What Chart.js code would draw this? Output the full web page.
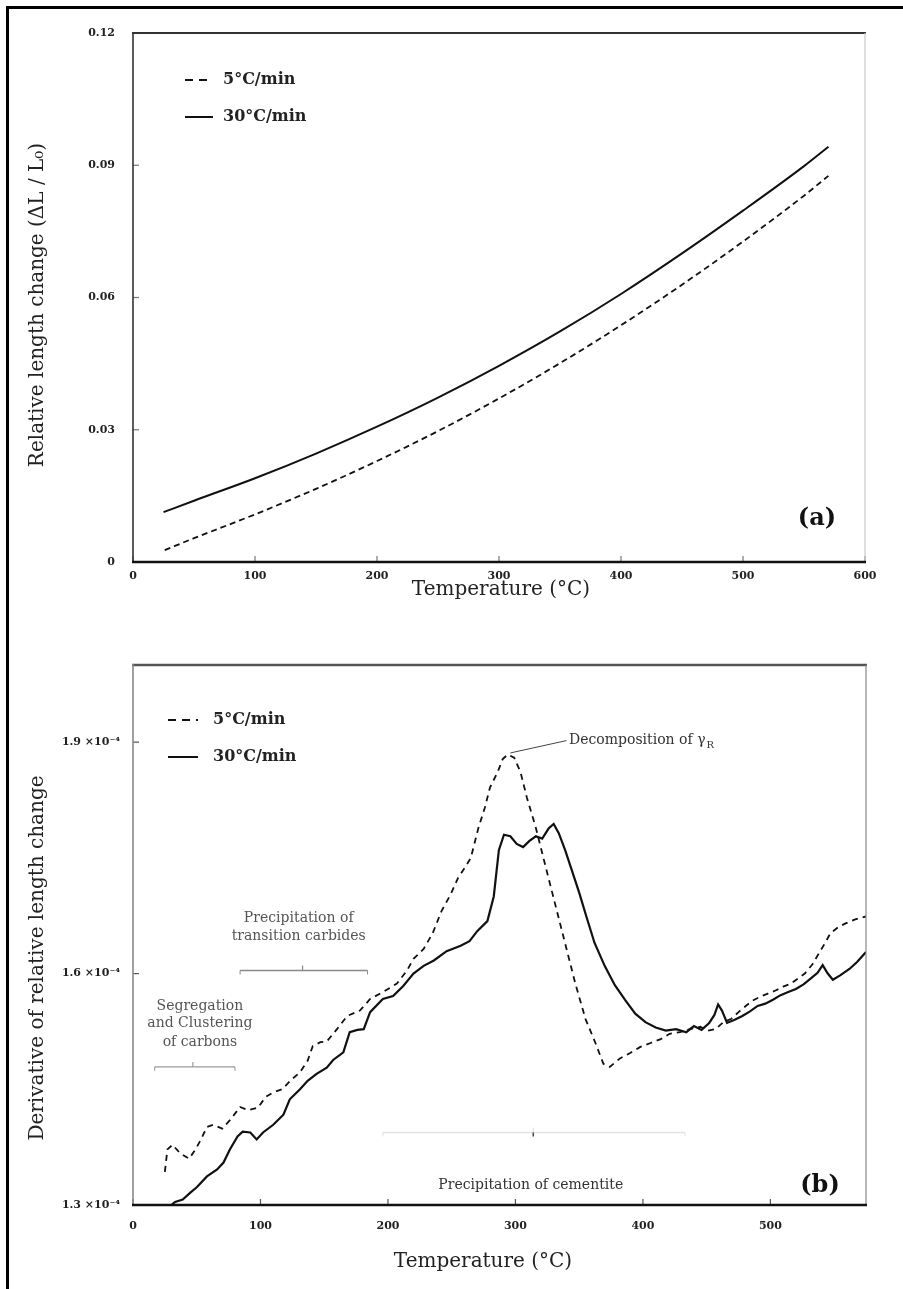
<!DOCTYPE html>
<html>
<head>
<meta charset="utf-8">
<script src="https://cdn.jsdelivr.net/npm/chart.js@4/dist/chart.umd.min.js"></script>
<style>
html,body{margin:0;padding:0;background:#fff;}
#wrap{position:relative;width:903px;height:1289px;overflow:hidden;background:#fff;}
#box1{position:absolute;left:0;top:0;width:903px;height:620px;}
#box2{position:absolute;left:0;top:620px;width:903px;height:669px;}
#outer{position:absolute;left:6px;top:6px;width:900px;height:1290px;border-left:3px solid #000;border-top:3px solid #000;pointer-events:none;}
</style>
</head>
<body>
<div id="wrap">
  <div id="box1"><canvas id="c1" width="903" height="620"></canvas></div>
  <div id="box2"><canvas id="c2" width="903" height="669"></canvas></div>
  <div id="outer"></div>
</div>
<script>
// ---------- DATA ----------
const seriesNames = ['5°C/min', '30°C/min'];

// (a) relative length change vs temperature
const tempA5  = [26, 50, 100, 150, 200, 250, 300, 350, 400, 450, 500, 550, 570];
const lenA5   = [0.0027, 0.0054, 0.0108, 0.0166, 0.0229, 0.0297, 0.0371, 0.0451, 0.0537, 0.0629, 0.0727, 0.0831, 0.0876];
const tempA30 = [25, 50, 100, 150, 200, 250, 300, 350, 400, 450, 500, 550, 570];
const lenA30  = [0.0113, 0.0139, 0.0190, 0.0246, 0.0307, 0.0373, 0.0445, 0.0523, 0.0608, 0.0700, 0.0797, 0.0898, 0.0942];

// (b) derivative of relative length change (x 1e-4) vs temperature
const tempB5 = [25,27,31,37,44,49,53,58,63,70,76,84,90,98,104,110,117,124,131,137,141,147,152,160,168,178,186,196,207,215,220,228,235,242,249,255,261,265,271,276,280,286,290,294,299,304,309,316,323,331,339,347,355,363,369,374,382,390,398,406,414,421,429,437,445,451,457,463,469,475,480,486,492,498,504,510,516,522,527,533,538,543,547,553,559,566,575];
const derivB5 = [1.343,1.372,1.378,1.367,1.360,1.372,1.384,1.401,1.404,1.399,1.410,1.427,1.423,1.426,1.440,1.446,1.450,1.462,1.472,1.487,1.506,1.511,1.512,1.528,1.545,1.552,1.567,1.576,1.587,1.604,1.619,1.632,1.652,1.681,1.702,1.724,1.739,1.750,1.789,1.815,1.841,1.861,1.878,1.884,1.880,1.861,1.828,1.789,1.743,1.691,1.639,1.587,1.541,1.509,1.483,1.479,1.490,1.497,1.505,1.510,1.515,1.522,1.524,1.528,1.531,1.526,1.528,1.537,1.541,1.550,1.557,1.565,1.570,1.574,1.578,1.583,1.587,1.594,1.600,1.612,1.626,1.640,1.652,1.660,1.665,1.670,1.674];
const tempB30 = [30,33,39,45,50,58,66,71,76,82,86,92,97,102,110,118,123,131,137,144,152,157,165,170,176,181,186,196,204,212,220,228,236,246,257,264,270,278,283,287,291,296,301,306,311,316,321,326,330,334,339,344,350,356,362,370,378,386,394,402,410,418,426,434,440,446,452,456,459,462,466,472,478,484,490,496,502,508,514,520,526,532,537,541,545,549,555,562,568,575];
const derivB30 = [1.300,1.304,1.307,1.316,1.323,1.337,1.346,1.355,1.372,1.389,1.395,1.394,1.385,1.394,1.404,1.417,1.437,1.450,1.461,1.470,1.478,1.488,1.498,1.524,1.527,1.528,1.550,1.567,1.571,1.584,1.600,1.610,1.617,1.629,1.636,1.642,1.655,1.668,1.700,1.760,1.780,1.778,1.768,1.764,1.772,1.778,1.775,1.788,1.794,1.782,1.760,1.735,1.705,1.672,1.640,1.610,1.585,1.566,1.548,1.537,1.530,1.526,1.528,1.524,1.532,1.527,1.536,1.546,1.560,1.552,1.536,1.540,1.545,1.551,1.558,1.561,1.566,1.572,1.576,1.580,1.586,1.594,1.601,1.611,1.600,1.592,1.598,1.606,1.615,1.628];

// ticks
const xTicksA = [0, 100, 200, 300, 400, 500, 600];
const yTicksA = [0, 0.03, 0.06, 0.09, 0.12];
const yTickLabelsA = ['0', '0.03', '0.06', '0.09', '0.12'];
const xTicksB = [0, 100, 200, 300, 400, 500];
const yTicksB = [1.3, 1.6, 1.9];
const yTickLabelsB = ['1.3 ×10⁻⁴', '1.6 ×10⁻⁴', '1.9 ×10⁻⁴'];

// ---------- HELPERS ----------
const SERIF = "'DejaVu Serif', 'Liberation Serif', serif";
const pairs = (xs, ys) => xs.map((v, i) => ({x: v, y: ys[i]}));

function hline(ctx, x1, y1, x2, y2, color, w) {
  ctx.beginPath(); ctx.strokeStyle = color; ctx.lineWidth = w;
  ctx.moveTo(x1, y1); ctx.lineTo(x2, y2); ctx.stroke();
}

const framePlugin = {
  id: 'frame',
  afterDatasetsDraw(chart, args, o) {
    const {ctx, chartArea: a, scales: {x, y}} = chart;
    ctx.save();
    ctx.setLineDash([]);
    x.ticks.forEach(t => {
      const px = x.getPixelForValue(t.value);
      hline(ctx, px, a.bottom, px, a.bottom - 6, o.tick, 1.2);
    });
    y.ticks.forEach(t => {
      const py = y.getPixelForValue(t.value);
      hline(ctx, a.left, py, a.left + 6, py, o.tick, 1.2);
    });
    hline(ctx, a.left - 1, a.top, a.right + 1, a.top, o.top, o.topW);
    hline(ctx, a.right, a.top, a.right, a.bottom, o.right, 1.2);
    hline(ctx, a.left, a.top - 1, a.left, a.bottom + 1, o.left, o.leftW);
    hline(ctx, a.left - 1, a.bottom, a.right + 1, a.bottom, '#111', 2.5);
    ctx.restore();
  }
};

const overlayPlugin = {
  id: 'overlay',
  afterDraw(chart, args, o) {
    const {ctx} = chart;
    ctx.save();
    // axis titles
    ctx.fillStyle = '#222';
    ctx.font = '20px ' + SERIF;
    ctx.textAlign = 'center';
    ctx.textBaseline = 'middle';
    ctx.fillText('Temperature (°C)', o.xTitle.x, o.xTitle.y);
    ctx.save();
    ctx.translate(o.yTitle.x, o.yTitle.y);
    ctx.rotate(-Math.PI / 2);
    ctx.fillText(o.yTitle.text, 0, 0);
    ctx.restore();
    // legend
    const L = o.legend;
    ctx.fillStyle = '#222';
    ctx.font = L.font;
    ctx.textAlign = 'left';
    ctx.strokeStyle = '#111';
    ctx.lineWidth = 2;
    ctx.setLineDash([8, 6]);
    ctx.beginPath(); ctx.moveTo(L.x1, L.y1); ctx.lineTo(L.x2, L.y1); ctx.stroke();
    ctx.setLineDash([]);
    ctx.beginPath(); ctx.moveTo(L.x1, L.y2); ctx.lineTo(L.x2, L.y2); ctx.stroke();
    ctx.fillText(seriesNames[0], L.tx, L.y1);
    ctx.fillText(seriesNames[1], L.tx, L.y2);
    // panel label
    ctx.font = 'bold 24px ' + SERIF;
    ctx.textAlign = 'center';
    ctx.fillStyle = '#111';
    ctx.fillText(o.panel.text, o.panel.x, o.panel.y);
    if (o.annotate) o.annotate(chart, ctx);
    ctx.restore();
  }
};

function annotateB(chart, ctx) {
  const {scales: {x, y}} = chart;
  const X = v => x.getPixelForValue(v), Y = v => y.getPixelForValue(v);
  ctx.textAlign = 'center';
  ctx.textBaseline = 'middle';
  ctx.setLineDash([]);
  function bracket(t1, t2, tc, v, color, w) {
    const y0 = Y(v);
    hline(ctx, X(t1), y0, X(t2), y0, color, w);
    hline(ctx, X(t1), y0, X(t1), y0 + 4, color, 1);
    hline(ctx, X(t2), y0, X(t2), y0 + 4, color, 1);
    hline(ctx, X(tc), y0, X(tc), y0 - 5, color, 1.2);
  }
  // segregation and clustering
  ctx.font = '14px ' + SERIF;
  ctx.fillStyle = '#555';
  ctx.fillText('Segregation', X(52.5), Y(1.558));
  ctx.fillText('and Clustering', X(52.5), Y(1.535));
  ctx.fillText('of carbons', X(52.5), Y(1.511));
  bracket(17, 80, 47, 1.479, '#999', 1.2);
  // transition carbides
  ctx.fillText('Precipitation of', X(130), Y(1.672));
  ctx.fillText('transition carbides', X(130), Y(1.648));
  bracket(84, 184, 133, 1.604, '#888', 1.5);
  // cementite
  ctx.fillStyle = '#333';
  ctx.fillText('Precipitation of cementite', X(312), Y(1.326));
  bracket(196, 433, 314, 1.394, '#e2e2e2', 1.5);
  hline(ctx, X(314), Y(1.394), X(314), Y(1.394) + 4, '#444', 1.5);
  // decomposition of gamma_R
  hline(ctx, X(296), Y(1.886), X(340), Y(1.902), '#444', 1);
  ctx.textAlign = 'left';
  ctx.fillStyle = '#333';
  ctx.font = '14px ' + SERIF;
  const s = 'Decomposition of γ';
  const tx = X(342), ty = Y(1.902);
  ctx.fillText(s, tx, ty);
  const w = ctx.measureText(s).width;
  ctx.font = '10px ' + SERIF;
  ctx.fillText('R', tx + w + 1, ty + 5);
}

function axisFont(size, bold) { return {family: SERIF, size: size, weight: bold ? 'bold' : 'normal'}; }

function buildChart(id, cfg) {
  return new Chart(document.getElementById(id), {
    type: 'line',
    data: {datasets: cfg.datasets},
    options: {
      responsive: false,
      animation: false,
      devicePixelRatio: 1,
      layout: {padding: cfg.padding},
      plugins: {
        legend: {display: false},
        tooltip: {enabled: false},
        frame: cfg.frame,
        overlay: cfg.overlay
      },
      elements: {point: {radius: 0}, line: {tension: cfg.tension, cubicInterpolationMode: cfg.interp}},
      scales: {
        x: {
          type: 'linear', min: cfg.xmin, max: cfg.xmax,
          grid: {display: false, drawTicks: false},
          border: {display: false},
          afterFit: s => { s.height = cfg.xh; },
          afterBuildTicks: s => { s.ticks = cfg.xticks.map(v => ({value: v})); },
          ticks: {padding: cfg.xtp, color: '#222', font: axisFont(11, true), callback: v => String(v), maxRotation: 0},
          title: {display: false}
        },
        y: {
          type: 'linear', min: cfg.ymin, max: cfg.ymax,
          grid: {display: false, drawTicks: false},
          border: {display: false},
          afterFit: s => { s.width = 133; },
          afterBuildTicks: s => { s.ticks = cfg.yticks.map(v => ({value: v})); },
          ticks: {padding: cfg.ytp, color: '#222', font: axisFont(11, true),
            callback: function(v) { const i = cfg.yticks.findIndex(t => Math.abs(t - v) < 1e-9); return i >= 0 ? cfg.ylabels[i] : ''; }},
          title: {display: false}
        }
      }
    },
    plugins: [framePlugin, overlayPlugin]
  });
}

buildChart('c1', {
  datasets: [
    {label: seriesNames[0], data: pairs(tempA5, lenA5), borderColor: '#111', borderWidth: 1.8, borderDash: [6, 4], fill: false},
    {label: seriesNames[1], data: pairs(tempA30, lenA30), borderColor: '#111', borderWidth: 2, fill: false}
  ],
  padding: {left: 0, top: 33, right: 38, bottom: 0},
  xmin: 0, xmax: 600, ymin: 0, ymax: 0.12,
  xticks: xTicksA, yticks: yTicksA, ylabels: yTickLabelsA,
  xh: 58, xtp: 8, ytp: 18, tension: 0.4, interp: 'monotone',
  frame: {tick: '#777', top: '#333', topW: 2, right: '#c8c8c8', left: '#333', leftW: 1.6},
  overlay: {
    xTitle: {x: 501, y: 590},
    yTitle: {x: 38, y: 305, text: 'Relative length change (ΔL / L₀)'},
    legend: {x1: 185, x2: 213, y1: 80, y2: 117, tx: 223, font: 'bold 16px ' + SERIF},
    panel: {text: '(a)', x: 817, y: 519}
  }
});

buildChart('c2', {
  datasets: [
    {label: seriesNames[0], data: pairs(tempB5, derivB5), borderColor: '#111', borderWidth: 1.8, borderDash: [6, 5], fill: false},
    {label: seriesNames[1], data: pairs(tempB30, derivB30), borderColor: '#111', borderWidth: 2.2, fill: false}
  ],
  padding: {left: 0, top: 45, right: 37, bottom: 0},
  xmin: 0, xmax: 575, ymin: 1.3, ymax: 2.0,
  xticks: xTicksB, yticks: yTicksB, ylabels: yTickLabelsB,
  xh: 84, xtp: 15, ytp: 13, tension: 0, interp: 'default',
  frame: {tick: '#555', top: '#555', topW: 2.5, right: '#888', left: '#888', leftW: 1.6},
  overlay: {
    xTitle: {x: 483, y: 642},
    yTitle: {x: 38, y: 338, text: 'Derivative of relative length change'},
    legend: {x1: 168, x2: 198, y1: 100, y2: 137, tx: 213, font: 'bold 16px ' + SERIF},
    panel: {text: '(b)', x: 820, y: 566},
    annotate: annotateB
  }
});
</script>
</body>
</html>
